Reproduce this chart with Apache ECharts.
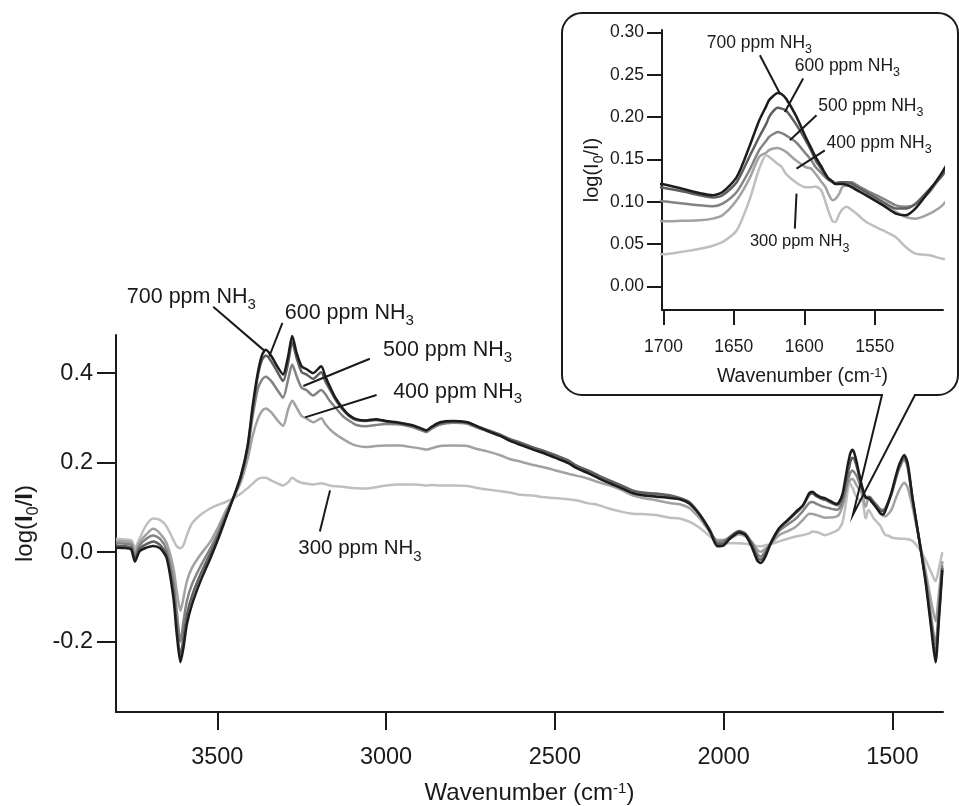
<!DOCTYPE html>
<html>
<head>
<meta charset="utf-8">
<title>NH3 IR difference spectra</title>
<script src="https://cdn.jsdelivr.net/npm/echarts@6/dist/echarts.min.js"></script>
<style>
  html, body { margin: 0; padding: 0; background: #fff; }
  #chart { width: 959px; height: 806px; }
</style>
</head>
<body>
<div id="chart"></div>
<script>
// Wavenumber grid (cm-1), shared by every spectrum
const wavenumber = [
  3800, 3770, 3755, 3744, 3730, 3710, 3690, 3670, 3650, 3630,
  3620, 3609, 3600, 3590, 3575, 3550, 3520, 3500, 3475, 3453,
  3430, 3410, 3395, 3380, 3367, 3356, 3340, 3320, 3305, 3290,
  3278, 3265, 3250, 3236, 3216, 3192, 3180, 3167, 3150, 3128,
  3108, 3088, 3060, 3030, 3000, 2960, 2920, 2895, 2881, 2865,
  2840, 2802, 2760, 2733, 2700, 2660, 2634, 2600, 2560, 2536,
  2500, 2460, 2437, 2400, 2370, 2338, 2300, 2270, 2240, 2200,
  2160, 2130, 2102, 2080, 2062, 2040, 2018, 2000, 1980, 1954,
  1935, 1915, 1900, 1890, 1878, 1860, 1836, 1810, 1786, 1765,
  1746, 1737, 1725, 1710, 1700, 1686, 1674, 1665, 1658, 1648,
  1639, 1632, 1627, 1625, 1622, 1619, 1616, 1613, 1606, 1599,
  1595, 1592, 1588, 1585, 1583, 1580, 1578, 1575, 1573, 1570,
  1566, 1563, 1556, 1544, 1535, 1528, 1521, 1511, 1502, 1490,
  1480, 1465, 1455, 1440, 1421, 1401, 1385, 1372, 1362, 1352
];

// log(I0/I) for each NH3 concentration
const nh3_700 = [
  0.010, 0.009, 0.006, -0.021, 0.002, 0.010, 0.014, 0.009, -0.013, -0.102,
  -0.183, -0.246, -0.213, -0.161, -0.117, -0.065, -0.013, 0.024, 0.075, 0.120,
  0.171, 0.238, 0.327, 0.400, 0.441, 0.452, 0.438, 0.412, 0.397, 0.438,
  0.483, 0.445, 0.415, 0.409, 0.400, 0.415, 0.393, 0.371, 0.345, 0.321,
  0.305, 0.297, 0.294, 0.297, 0.293, 0.289, 0.283, 0.276, 0.272, 0.280,
  0.290, 0.293, 0.290, 0.282, 0.271, 0.259, 0.249, 0.239, 0.228, 0.222,
  0.211, 0.199, 0.188, 0.176, 0.165, 0.154, 0.142, 0.132, 0.127, 0.124,
  0.121, 0.118, 0.109, 0.092, 0.074, 0.046, 0.013, 0.015, 0.031, 0.044,
  0.038, 0.009, -0.019, -0.024, -0.013, 0.020, 0.053, 0.072, 0.090, 0.105,
  0.132, 0.135, 0.128, 0.122, 0.1206, 0.115, 0.110, 0.1076, 0.1115, 0.129,
  0.165, 0.196, 0.213, 0.220, 0.225, 0.2285, 0.227, 0.222, 0.202, 0.1765,
  0.163, 0.153, 0.142, 0.133, 0.128, 0.124, 0.121, 0.121, 0.121, 0.120,
  0.117, 0.114, 0.1076, 0.0957, 0.086, 0.084, 0.092, 0.1135, 0.135, 0.170,
  0.195, 0.217, 0.200, 0.120, 0.030, -0.070, -0.170, -0.246, -0.150, -0.040
];
const nh3_600 = [
  0.014, 0.013, 0.011, -0.015, 0.008, 0.018, 0.024, 0.016, -0.007, -0.087,
  -0.165, -0.233, -0.190, -0.139, -0.098, -0.050, -0.002, 0.031, 0.079, 0.120,
  0.168, 0.234, 0.319, 0.393, 0.430, 0.439, 0.426, 0.400, 0.382, 0.423,
  0.469, 0.434, 0.402, 0.397, 0.387, 0.402, 0.382, 0.364, 0.341, 0.318,
  0.303, 0.295, 0.293, 0.295, 0.292, 0.288, 0.282, 0.275, 0.271, 0.279,
  0.288, 0.292, 0.290, 0.282, 0.273, 0.262, 0.253, 0.244, 0.233, 0.227,
  0.217, 0.205, 0.194, 0.182, 0.171, 0.160, 0.148, 0.138, 0.133, 0.131,
  0.127, 0.121, 0.112, 0.094, 0.075, 0.049, 0.018, 0.020, 0.035, 0.047,
  0.041, 0.015, -0.012, -0.017, -0.007, 0.022, 0.052, 0.070, 0.087, 0.103,
  0.128, 0.131, 0.125, 0.119, 0.1166, 0.112, 0.1076, 0.105, 0.1076, 0.123,
  0.153, 0.1765, 0.192, 0.200, 0.207, 0.211, 0.210, 0.208, 0.192, 0.1726,
  0.160, 0.149, 0.139, 0.131, 0.127, 0.124, 0.122, 0.123, 0.123, 0.123,
  0.121, 0.118, 0.1115, 0.0997, 0.092, 0.092, 0.0977, 0.115, 0.131, 0.165,
  0.190, 0.212, 0.195, 0.117, 0.030, -0.065, -0.160, -0.228, -0.140, -0.035
];
const nh3_500 = [
  0.020, 0.019, 0.017, -0.007, 0.015, 0.030, 0.037, 0.030, 0.005, -0.065,
  -0.132, -0.200, -0.154, -0.109, -0.072, -0.032, 0.009, 0.040, 0.084, 0.120,
  0.164, 0.227, 0.304, 0.364, 0.386, 0.392, 0.382, 0.360, 0.345, 0.386,
  0.419, 0.393, 0.367, 0.362, 0.350, 0.362, 0.353, 0.338, 0.323, 0.304,
  0.293, 0.284, 0.281, 0.284, 0.286, 0.285, 0.279, 0.272, 0.268, 0.276,
  0.285, 0.289, 0.287, 0.279, 0.270, 0.259, 0.250, 0.241, 0.230, 0.224,
  0.214, 0.202, 0.191, 0.179, 0.168, 0.157, 0.145, 0.135, 0.130, 0.128,
  0.124, 0.119, 0.110, 0.093, 0.074, 0.047, 0.022, 0.025, 0.035, 0.046,
  0.040, 0.019, -0.004, -0.010, 0.000, 0.020, 0.047, 0.062, 0.075, 0.092,
  0.110, 0.112, 0.108, 0.103, 0.1005, 0.098, 0.0957, 0.0946, 0.0977, 0.1115,
  0.137, 0.161, 0.172, 0.1765, 0.180, 0.1824, 0.181, 0.1785, 0.1706, 0.157,
  0.149, 0.141, 0.134, 0.129, 0.126, 0.123, 0.121, 0.122, 0.123, 0.123,
  0.123, 0.120, 0.1135, 0.1036, 0.0957, 0.094, 0.097, 0.1115, 0.133, 0.163,
  0.186, 0.207, 0.190, 0.115, 0.030, -0.060, -0.145, -0.205, -0.120, -0.030
];
const nh3_400 = [
  0.025, 0.024, 0.022, 0.0015, 0.022, 0.040, 0.052, 0.042, 0.020, -0.035,
  -0.087, -0.131, -0.102, -0.065, -0.035, -0.006, 0.024, 0.052, 0.092, 0.120,
  0.157, 0.208, 0.260, 0.297, 0.316, 0.321, 0.312, 0.293, 0.282, 0.319,
  0.338, 0.323, 0.304, 0.299, 0.290, 0.299, 0.286, 0.275, 0.264, 0.253,
  0.244, 0.238, 0.235, 0.237, 0.238, 0.238, 0.234, 0.231, 0.229, 0.232,
  0.237, 0.238, 0.237, 0.231, 0.225, 0.216, 0.208, 0.202, 0.194, 0.190,
  0.183, 0.175, 0.171, 0.164, 0.156, 0.149, 0.138, 0.127, 0.121, 0.116,
  0.110, 0.107, 0.099, 0.083, 0.067, 0.044, 0.027, 0.027, 0.031, 0.040,
  0.035, 0.022, 0.005, 0.001, 0.007, 0.018, 0.038, 0.047, 0.057, 0.072,
  0.086, 0.085, 0.083, 0.079, 0.0768, 0.0775, 0.078, 0.080, 0.084, 0.1017,
  0.127, 0.153, 0.158, 0.161, 0.163, 0.1635, 0.162, 0.159, 0.149, 0.141,
  0.139, 0.133, 0.124, 0.1174, 0.110, 0.1017, 0.103, 0.110, 0.1174, 0.119,
  0.119, 0.116, 0.1095, 0.0977, 0.088, 0.082, 0.080, 0.0859, 0.0957, 0.120,
  0.138, 0.155, 0.145, 0.100, 0.030, -0.045, -0.110, -0.154, -0.090, -0.020
];
const nh3_300 = [
  0.030, 0.028, 0.027, 0.010, 0.031, 0.061, 0.075, 0.072, 0.057, 0.027,
  0.013, 0.009, 0.016, 0.038, 0.064, 0.083, 0.098, 0.105, 0.112, 0.120,
  0.131, 0.143, 0.153, 0.163, 0.166, 0.166, 0.160, 0.153, 0.149, 0.156,
  0.166, 0.160, 0.155, 0.153, 0.151, 0.154, 0.152, 0.149, 0.147, 0.146,
  0.144, 0.143, 0.142, 0.145, 0.149, 0.151, 0.151, 0.150, 0.149, 0.150,
  0.149, 0.149, 0.148, 0.144, 0.140, 0.136, 0.133, 0.128, 0.126, 0.123,
  0.121, 0.118, 0.116, 0.109, 0.105, 0.097, 0.090, 0.086, 0.085, 0.083,
  0.077, 0.075, 0.068, 0.059, 0.049, 0.035, 0.022, 0.020, 0.020, 0.020,
  0.019, 0.016, 0.013, 0.013, 0.015, 0.018, 0.024, 0.030, 0.035, 0.038,
  0.042, 0.046, 0.045, 0.041, 0.0378, 0.041, 0.0445, 0.048, 0.0524, 0.066,
  0.1017, 0.139, 0.155, 0.153, 0.149, 0.145, 0.141, 0.133, 0.123, 0.117,
  0.117, 0.118, 0.1135, 0.100, 0.0898, 0.077, 0.076, 0.086, 0.091, 0.094,
  0.090, 0.086, 0.076, 0.066, 0.058, 0.0465, 0.0386, 0.0366, 0.0327, 0.031,
  0.030, 0.030, 0.029, 0.025, 0.008, -0.018, -0.045, -0.065, -0.035, 0.000
];

// Tick positions
const mainXTicks = [1500, 2000, 2500, 3000, 3500];
const mainYTicks = [-0.2, 0, 0.2, 0.4];
const insetXTicks = [1550, 1600, 1650, 1700];
const insetYTicks = [0, 0.05, 0.10, 0.15, 0.20, 0.25, 0.30];

const FONT = '"Liberation Sans", Arial, Helvetica, sans-serif';
const INK = '#1a1a1a';

// Drawn back to front so the strongest spectrum sits on top
const spectra = [
  { ppm: 300, values: nh3_300, color: '#bfbfbf' },
  { ppm: 400, values: nh3_400, color: '#a2a2a2' },
  { ppm: 500, values: nh3_500, color: '#838383' },
  { ppm: 600, values: nh3_600, color: '#5f5f5f' },
  { ppm: 700, values: nh3_700, color: '#1c1c1c' }
];

const chart = echarts.init(document.getElementById('chart'), null, { renderer: 'canvas' });

function axisCommon(tickLen, fontSize, margin, ticks, fmt) {
  return {
    axisLine: { show: true, onZero: false, lineStyle: { color: INK, width: 2 } },
    axisTick: { show: true, length: tickLen, inside: false, customValues: ticks,
                lineStyle: { color: INK, width: 2 } },
    axisLabel: { show: true, customValues: ticks, margin: margin, formatter: fmt,
                 color: INK, fontSize: fontSize, fontFamily: FONT, lineHeight: fontSize },
    splitLine: { show: false }
  };
}

const titleRich = (size, supSize) => ({
  a: { fontSize: size, lineHeight: size + 2, verticalAlign: 'top', fontFamily: FONT, color: INK },
  b: { fontSize: size, lineHeight: size + 2, verticalAlign: 'top', fontFamily: FONT, color: INK, fontWeight: 'bold' },
  s: { fontSize: supSize + 1, lineHeight: supSize + 2, verticalAlign: 'top', padding: [Math.round(size * 0.5), 0, 0, 0], fontFamily: FONT, color: INK },
  p: { fontSize: supSize, lineHeight: supSize, verticalAlign: 'top', fontFamily: FONT, color: INK }
});

const series = [];
spectra.forEach(s => {
  const data = wavenumber.map((w, i) => [w, s.values[i]]);
  series.push({
    type: 'line', name: s.ppm + ' ppm NH3', xAxisIndex: 0, yAxisIndex: 0,
    data: data, showSymbol: false, smooth: 0.25, silent: true,
    lineStyle: { color: s.color, width: 2.5 }, itemStyle: { color: s.color }
  });
  series.push({
    type: 'line', name: s.ppm + ' ppm NH3 (detail)', xAxisIndex: 1, yAxisIndex: 1,
    data: data, showSymbol: false, smooth: 0.25, silent: true, clip: true,
    lineStyle: { color: s.color, width: 2.5 }, itemStyle: { color: s.color }
  });
});

const option = {
  animation: false,
  backgroundColor: '#ffffff',
  grid: [
    { left: 116, right: 16, top: 335, bottom: 91, containLabel: false },
    { left: 662, right: 16, top: 30, bottom: 496, containLabel: false }
  ],
  xAxis: [
    Object.assign({
      type: 'value', gridIndex: 0, inverse: true, min: 1350, max: 3800,
      name: '{a|Wavenumber (cm}{p|-1}{a|)}', nameLocation: 'middle', nameGap: 69,
      nameTextStyle: { rich: titleRich(24, 15) }
    }, axisCommon(18, 23.5, 34, mainXTicks, v => String(v))),
    Object.assign({
      type: 'value', gridIndex: 1, inverse: true, min: 1501.5, max: 1701,
      name: '{a|Wavenumber (cm}{p|-1}{a|)}', nameLocation: 'middle', nameGap: 57,
      nameTextStyle: { rich: titleRich(19.5, 13) }
    }, axisCommon(15, 17.5, 28, insetXTicks, v => String(v)))
  ],
  yAxis: [
    Object.assign({
      type: 'value', gridIndex: 0, min: -0.357, max: 0.485,
      name: '{a|log(}{b|I}{s|0}{a|/}{b|I}{a|)}', nameLocation: 'middle', nameGap: 70, nameRotate: 90,
      nameTextStyle: { rich: titleRich(24, 15) }
    }, axisCommon(19, 23.5, 23, mainYTicks, v => v.toFixed(1))),
    Object.assign({
      type: 'value', gridIndex: 1, min: -0.028, max: 0.303,
      name: '{a|log(}{a|I}{s|0}{a|/}{a|I}{a|)}', nameLocation: 'middle', nameGap: 58, nameRotate: 90,
      nameTextStyle: { rich: titleRich(20, 13) }
    }, axisCommon(15, 17.5, 18, insetYTicks, v => v.toFixed(2)))
  ],
  series: series
};

chart.setOption(option);

// Concentration labels with leader lines, placed in data units of each panel
const mainNotes = [
  { ppm: 700, at: [3768, 0.569], from: [3512, 0.548], to: [3359, 0.449] },
  { ppm: 600, at: [3300, 0.533], from: [3307, 0.512], to: [3346, 0.437] },
  { ppm: 500, at: [3009, 0.450], from: [3048, 0.432], to: [3245, 0.371] },
  { ppm: 400, at: [2979, 0.358], from: [3028, 0.351], to: [3240, 0.301] },
  { ppm: 300, at: [3260, 0.007], from: [3166, 0.138], to: [3196, 0.046] }
];
const insetNotes = [
  { ppm: 700, at: [1669.2, 0.2873], from: [1631.5, 0.2731], to: [1617.3, 0.2279] },
  { ppm: 600, at: [1606.7, 0.2601], from: [1600.8, 0.2456], to: [1613.8, 0.2061] },
  { ppm: 500, at: [1590.1, 0.2128], from: [1591.3, 0.2022], to: [1610.2, 0.1726] },
  { ppm: 400, at: [1584.2, 0.1691], from: [1585.4, 0.1608], to: [1605.5, 0.1392] },
  { ppm: 300, at: [1638.6, 0.0530], from: [1605.5, 0.1096], to: [1606.7, 0.0682] }
];
// Point on the main spectrum that the detail panel zooms into
const calloutTarget = [1617, 0.083];

function px(gridIndex, pt) {
  return chart.convertToPixel({ gridIndex: gridIndex }, pt);
}

function noteElements(gridIndex, notes, size, subSize, subDrop) {
  const els = [];
  notes.forEach(n => {
    const fs = (n.ppm === 300) ? size - 1 : size;
    const lh = fs + 1;
    const a = px(gridIndex, n.at);
    const p1 = px(gridIndex, n.from);
    const p2 = px(gridIndex, n.to);
    els.push({
      type: 'text', z: 20,
      style: {
        x: a[0], y: a[1] - lh / 2, align: 'left', verticalAlign: 'top',
        text: '{a|' + n.ppm + ' ppm NH}{s|3}',
        rich: {
          a: { fontSize: fs, lineHeight: lh, verticalAlign: 'top', fontFamily: FONT, fill: INK },
          s: { fontSize: subSize, lineHeight: subSize + 1, verticalAlign: 'top', padding: [subDrop, 0, 0, 0], fontFamily: FONT, fill: INK }
        }
      }
    });
    els.push({
      type: 'line', z: 20,
      shape: { x1: p1[0], y1: p1[1], x2: p2[0], y2: p2[1] },
      style: { stroke: INK, lineWidth: 2 }
    });
  });
  return els;
}

const tip = px(0, calloutTarget);
const box = { x: 562, y: 13, w: 396, h: 382, r: 20, gapL: 882, gapR: 915 };

const graphics = [
  {
    type: 'rect', z: 15,
    shape: { x: box.x, y: box.y, width: box.w, height: box.h, r: box.r },
    style: { fill: 'none', stroke: INK, lineWidth: 2 }
  },
  {
    type: 'line', z: 16,
    shape: { x1: box.gapL + 1, y1: box.y + box.h, x2: box.gapR - 1, y2: box.y + box.h },
    style: { stroke: '#ffffff', lineWidth: 4 }
  },
  {
    type: 'polyline', z: 17,
    shape: { points: [[box.gapL, box.y + box.h], [tip[0], tip[1]], [box.gapR, box.y + box.h]] },
    style: { stroke: INK, lineWidth: 2, fill: 'none' }
  }
].concat(noteElements(0, mainNotes, 21.5, 15, 11))
 .concat(noteElements(1, insetNotes, 17.5, 12.5, 9));

chart.setOption({ graphic: graphics });
</script>
</body>
</html>
